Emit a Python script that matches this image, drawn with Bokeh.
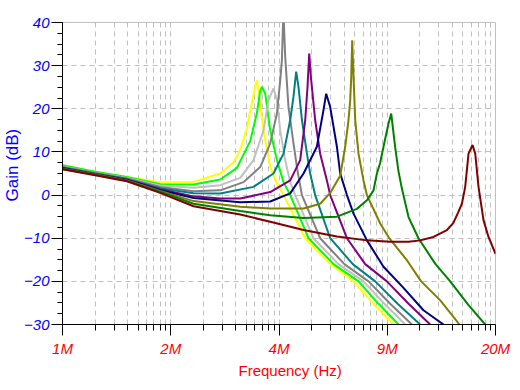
import math
from bokeh.plotting import figure
from bokeh.models import Range1d, FixedTicker, CustomJSTickFormatter, Title
from bokeh.embed import file_html
from bokeh.resources import INLINE

# ---------------- data (frequency in MHz, gain in dB) ----------------
yellow_f = [1.0, 1.254, 1.561, 1.966, 2.476, 2.978, 3.265, 3.42, 3.583, 3.664, 3.793, 3.838, 3.908, 4.018, 4.209, 4.408, 4.614, 5.36, 6.34, 7.49, 8.6, 9.88]
yellow_g = [6.9, 5.4, 4.2, 2.9, 3.05, 5.0, 7.6, 10.5, 15.5, 19.5, 25.1, 26.6, 22.0, 15.0, 6.5, 2.7, 0.0, -10.0, -15.8, -20.0, -25.2, -30.0]

lime_f = [1.0, 1.254, 1.561, 1.966, 2.476, 2.978, 3.342, 3.664, 3.838, 3.927, 3.974, 4.066, 4.209, 4.408, 4.614, 4.833, 5.486, 6.52, 7.752, 8.9, 10.223]
lime_g = [6.9, 5.4, 4.2, 2.5, 2.45, 3.6, 6.3, 12.5, 19.0, 24.2, 25.1, 23.5, 15.0, 8.1, 3.0, 0.0, -10.0, -16.0, -20.0, -25.2, -30.0]

silver_f = [1.0, 1.254, 1.561, 1.966, 2.476, 2.978, 3.42, 3.749, 4.018, 4.159, 4.259, 4.305, 4.408, 4.51, 4.669, 4.833, 5.003, 5.676, 6.75, 8.024, 9.27, 10.707]
silver_g = [6.6, 5.2, 3.95, 2.2, 1.7, 2.3, 4.0, 8.1, 15.0, 22.0, 23.9, 24.7, 22.0, 15.0, 8.1, 3.0, 0.0, -10.0, -16.0, -20.0, -25.2, -30.0]

gray_f = [1.0, 1.254, 1.561, 1.966, 2.476, 2.978, 3.499, 3.927, 4.209, 4.408, 4.51, 4.563, 4.595, 4.614, 4.669, 4.776, 4.944, 5.073, 5.241, 5.946, 7.03, 8.308, 9.65, 11.217]
gray_g = [6.5, 5.1, 3.85, 1.9, 0.9, 1.1, 3.0, 6.5, 12.0, 18.9, 26.6, 31.3, 39.0, 42.0, 32.0, 20.4, 12.0, 6.0, 0.0, -10.0, -16.0, -20.0, -25.2, -30.0]

teal_f = [1.0, 1.254, 1.561, 1.966, 2.476, 2.978, 3.749, 4.305, 4.614, 4.833, 4.944, 5.037, 5.118, 5.241, 5.426, 5.549, 5.743, 6.373, 7.45, 8.7, 10.16, 11.876]
teal_g = [6.4, 5.0, 3.7, 1.6, 0.4, 0.35, 1.9, 5.0, 9.6, 17.4, 22.8, 28.6, 25.1, 17.4, 9.6, 5.0, 0.0, -10.0, -16.0, -20.0, -25.2, -30.0]

purple_f = [1.0, 1.254, 1.561, 1.966, 2.476, 2.978, 3.42, 4.209, 4.833, 5.178, 5.362, 5.448, 5.512, 5.576, 5.743, 5.946, 6.229, 6.373, 7.155, 8.12, 9.435, 10.96, 12.726]
purple_g = [6.3, 4.9, 3.6, 1.35, -0.3, -0.8, -0.8, 0.7, 3.4, 8.1, 17.4, 25.1, 32.8, 27.4, 17.4, 9.6, 3.4, 0.0, -10.0, -16.0, -20.0, -25.2, -30.0]

navy_f = [1.0, 1.254, 1.561, 1.966, 2.476, 3.42, 4.209, 4.833, 5.3, 5.811, 6.084, 6.199, 6.373, 6.676, 6.83, 7.155, 7.489, 8.216, 9.215, 10.583, 12.149, 13.957]
navy_g = [6.2, 4.8, 3.5, 1.15, -0.7, -1.65, -1.5, 0.4, 5.0, 11.2, 19.7, 23.5, 20.4, 11.2, 5.0, 0.0, -4.3, -10.5, -16.6, -21.5, -26.7, -30.0]

olive_f = [1.0, 1.254, 1.561, 1.966, 2.476, 3.42, 4.209, 5.3, 5.946, 6.373, 6.83, 7.071, 7.234, 7.32, 7.371, 7.421, 7.489, 7.577, 7.752, 8.024, 8.216, 9.006, 9.587, 10.836, 11.958, 13.649, 15.592]
olive_g = [6.1, 4.75, 3.4, 0.95, -1.4, -2.7, -3.1, -3.1, -2.0, 0.5, 4.5, 11.2, 17.4, 22.0, 27.4, 35.9, 27.4, 17.4, 9.6, 3.4, 0.0, -6.6, -10.0, -15.1, -20.0, -24.4, -30.0]

green_f = [1.0, 1.254, 1.561, 1.966, 2.476, 3.42, 4.209, 5.3, 6.676, 7.667, 8.216, 8.599, 8.804, 9.006, 9.215, 9.541, 9.721, 9.993, 10.223, 10.466, 10.956, 11.737, 13.173, 14.62, 16.596, 18.625]
green_g = [6.05, 4.7, 3.3, 0.8, -2.0, -3.7, -4.7, -5.3, -5.0, -3.2, -1.2, 1.1, 5.0, 7.5, 11.2, 16.6, 18.9, 11.0, 5.5, 1.5, -5.1, -10.0, -15.9, -20.0, -25.5, -30.0]

maroon_f = [1.0, 1.254, 1.561, 1.966, 2.476, 3.42, 4.209, 5.3, 6.676, 8.216, 9.654, 10.956, 11.876, 13.019, 14.289, 14.93, 15.45, 15.852, 16.218, 16.596, 17.061, 17.383, 17.783, 18.408, 19.054, 20.0]
maroon_g = [6.0, 4.6, 3.2, 0.5, -2.6, -4.5, -6.2, -8.1, -9.6, -10.5, -10.8, -10.8, -10.5, -9.7, -8.1, -6.5, -4.0, -2.0, 1.9, 9.6, 11.6, 9.6, 1.9, -5.8, -9.7, -13.6]

series = [
    ("#FFFF00", yellow_f, yellow_g),
    ("#00FF00", lime_f, lime_g),
    ("#C0C0C0", silver_f, silver_g),
    ("#808080", gray_f, gray_g),
    ("#008080", teal_f, teal_g),
    ("#800080", purple_f, purple_g),
    ("#000080", navy_f, navy_g),
    ("#808000", olive_f, olive_g),
    ("#008000", green_f, green_g),
    ("#800000", maroon_f, maroon_g),
]

x_tick_labels = ["1M", "2M", "4M", "9M", "20M"]
y_ticks = [-30, -20, -10, 0, 10, 20, 30, 40]
x_title = "Frequency (Hz)"
y_title = "Gain (dB)"

# ---------------- axes geometry ----------------
X_MIN, X_MAX = 1e6, 2e7
ratio = (X_MAX / X_MIN) ** 0.25
x_major = [round(X_MIN * ratio ** k) for k in range(5)]
x_minor = [X_MIN * ratio ** (k + math.log10(j)) for k in range(4) for j in range(2, 10)]
y_minor = [v / 2.0 for v in range(-60, 81, 5)]

FONT = "Liberation Sans"
GRID = "#C0C0C0"

p = figure(width=520, height=390, x_axis_type="log",
           x_range=Range1d(X_MIN, X_MAX), y_range=Range1d(-30, 40),
           output_backend="svg", toolbar_location=None, title=None,
           min_border_left=62, min_border_right=25, min_border_top=22, min_border_bottom=66)
p.background_fill_color = "white"
p.border_fill_color = "white"
p.outline_line_color = GRID
p.outline_line_width = 1

xt = FixedTicker(ticks=x_major, minor_ticks=x_minor)
yt = FixedTicker(ticks=y_ticks, minor_ticks=y_minor)

xa = p.xaxis[0]
xa.ticker = xt
xa.formatter = CustomJSTickFormatter(args=dict(labels=x_tick_labels, r=ratio), code="""
const k = Math.round(Math.log(tick / 1e6) / Math.log(r));
return (k >= 0 && k < labels.length) ? labels[k] : "";
""")
ya = p.yaxis[0]
ya.ticker = yt

for ax, col in ((xa, "#FF0000"), (ya, "#0000FF")):
    ax.axis_line_color = "black"
    ax.major_tick_line_color = "black"
    ax.minor_tick_line_color = "black"
    ax.major_tick_in = 0
    ax.minor_tick_in = 0
    ax.major_tick_out = 11
    ax.minor_tick_out = 5
    ax.major_label_text_color = col
    ax.major_label_text_font = FONT
    ax.major_label_text_font_size = "15px"
    ax.major_label_text_font_style = "italic"
xa.major_label_standoff = 4
xa.minor_tick_out = 6
ya.major_label_standoff = 2

p.xgrid[0].ticker = xt
p.xgrid[0].grid_line_color = GRID
p.xgrid[0].grid_line_dash = "5 4"
p.xgrid[0].minor_grid_line_color = GRID
p.xgrid[0].minor_grid_line_dash = "5 4"
p.ygrid[0].ticker = yt
p.ygrid[0].grid_line_color = GRID
p.ygrid[0].grid_line_dash = "5 4"

for color, fs, gs in series:
    p.line([f * 1e6 for f in fs], gs, line_color=color, line_width=2)

p.add_layout(Title(text=x_title, align="left", offset=176, text_color="#FF0000",
                   text_font=FONT, text_font_size="15px", text_font_style="normal",
                   standoff=0), "below")
p.add_layout(Title(text=y_title, align="left", offset=123, text_color="#0000FF",
                   text_font=FONT, text_font_size="17px", text_font_style="normal",
                   standoff=0), "left")

open("out.html", "w").write(file_html(p, INLINE))
